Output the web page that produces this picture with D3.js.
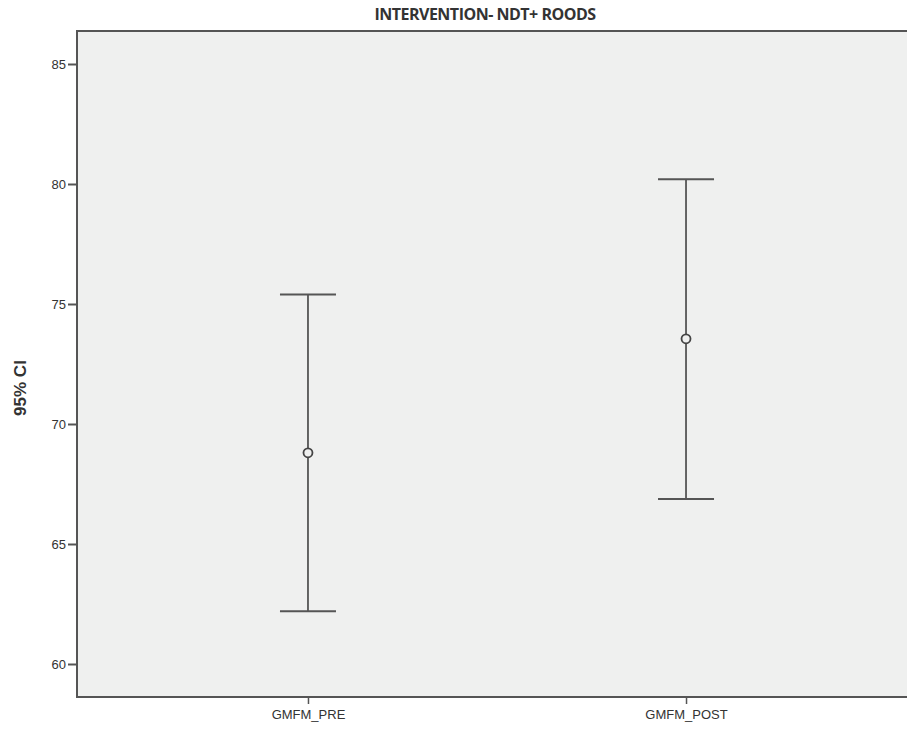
<!DOCTYPE html>
<html>
<head>
<meta charset="utf-8">
<script src="https://cdn.jsdelivr.net/npm/d3@7"></script>
<style>
  html, body { margin: 0; padding: 0; background: #fff; overflow: hidden; }
  svg { display: block; }
  text { font-family: "Liberation Sans Narrow", "Arial Narrow", "Liberation Sans", sans-serif; fill: #333; }
</style>
</head>
<body>
<svg width="907" height="732"></svg>
<script>
// chart data
var categories = ["GMFM_PRE", "GMFM_POST"];
var means = [68.8, 73.55];
var lower = [62.2, 66.88];
var upper = [75.4, 80.2];
var yTicks = [60, 65, 70, 75, 80, 85];

var svg = d3.select("svg"),
    plotLeft = 77, plotRight = 917, plotTop = 31, plotBottom = 697,
    frameRight = 1000; // frame runs past the right edge of the picture

var y = d3.scaleLinear()
    .domain([58.625, 86.375])
    .range([plotBottom, plotTop]);

var x = d3.scalePoint()
    .domain(categories)
    .range([plotLeft, plotRight])
    .padding(0.611);

// plot background
svg.append("rect")
    .attr("x", plotLeft).attr("y", plotTop)
    .attr("width", frameRight - plotLeft).attr("height", plotBottom - plotTop)
    .attr("fill", "#eff0ef");

// frame: top, left, bottom
svg.append("path")
    .attr("d", "M" + frameRight + "," + plotTop + "H" + plotLeft + "V" + plotBottom + "H" + frameRight)
    .attr("fill", "none")
    .attr("stroke", "#555")
    .attr("stroke-width", 2);

// y axis
var yAxis = svg.append("g")
    .attr("transform", "translate(" + plotLeft + ",0)")
    .call(d3.axisLeft(y).tickValues(yTicks).tickSize(9).tickPadding(2));
yAxis.select(".domain").remove();
yAxis.selectAll("line").attr("stroke", "#555").attr("stroke-width", 2);
yAxis.selectAll("text").style("font-size", "13px").attr("fill", "#333");

// x axis
var xAxis = svg.append("g")
    .attr("transform", "translate(0," + plotBottom + ")")
    .call(d3.axisBottom(x).tickSize(7).tickPadding(6));
xAxis.select(".domain").remove();
xAxis.selectAll("line").attr("stroke", "#555").attr("stroke-width", 1.5);
xAxis.selectAll("text").style("font-size", "13px").attr("fill", "#333");

// error bars
var bars = svg.append("g").selectAll("g")
    .data(categories)
    .enter().append("g");

bars.append("line")
    .attr("x1", function(d) { return x(d); })
    .attr("x2", function(d) { return x(d); })
    .attr("y1", function(d, i) { return y(upper[i]); })
    .attr("y2", function(d, i) { return y(lower[i]); })
    .attr("stroke", "#555").attr("stroke-width", 1.8);

bars.append("line")
    .attr("x1", function(d) { return x(d) - 28; })
    .attr("x2", function(d) { return x(d) + 28; })
    .attr("y1", function(d, i) { return y(upper[i]); })
    .attr("y2", function(d, i) { return y(upper[i]); })
    .attr("stroke", "#555").attr("stroke-width", 2);

bars.append("line")
    .attr("x1", function(d) { return x(d) - 28; })
    .attr("x2", function(d) { return x(d) + 28; })
    .attr("y1", function(d, i) { return y(lower[i]); })
    .attr("y2", function(d, i) { return y(lower[i]); })
    .attr("stroke", "#555").attr("stroke-width", 2);

bars.append("circle")
    .attr("cx", function(d) { return x(d); })
    .attr("cy", function(d, i) { return y(means[i]); })
    .attr("r", 4.5)
    .attr("fill", "#eff0ef")
    .attr("stroke", "#444").attr("stroke-width", 1.8);

// title
svg.append("text")
    .attr("x", 485).attr("y", 20)
    .attr("text-anchor", "middle")
    .style("font-family", "'Open Sans', 'Liberation Sans', sans-serif")
    .style("font-weight", "bold")
    .style("font-size", "16px")
    .style("letter-spacing", "-0.5px")
    .text("INTERVENTION- NDT+ ROODS");

// y axis label
svg.append("text")
    .attr("transform", "translate(26," + ((plotTop + plotBottom) / 2 + 24) + ") rotate(-90)")
    .attr("text-anchor", "middle")
    .style("font-family", "'Liberation Sans', Arial, sans-serif")
    .style("font-weight", "bold")
    .style("font-size", "17px")
    .attr("fill", "#111")
    .text("95% CI");
</script>
</body>
</html>
